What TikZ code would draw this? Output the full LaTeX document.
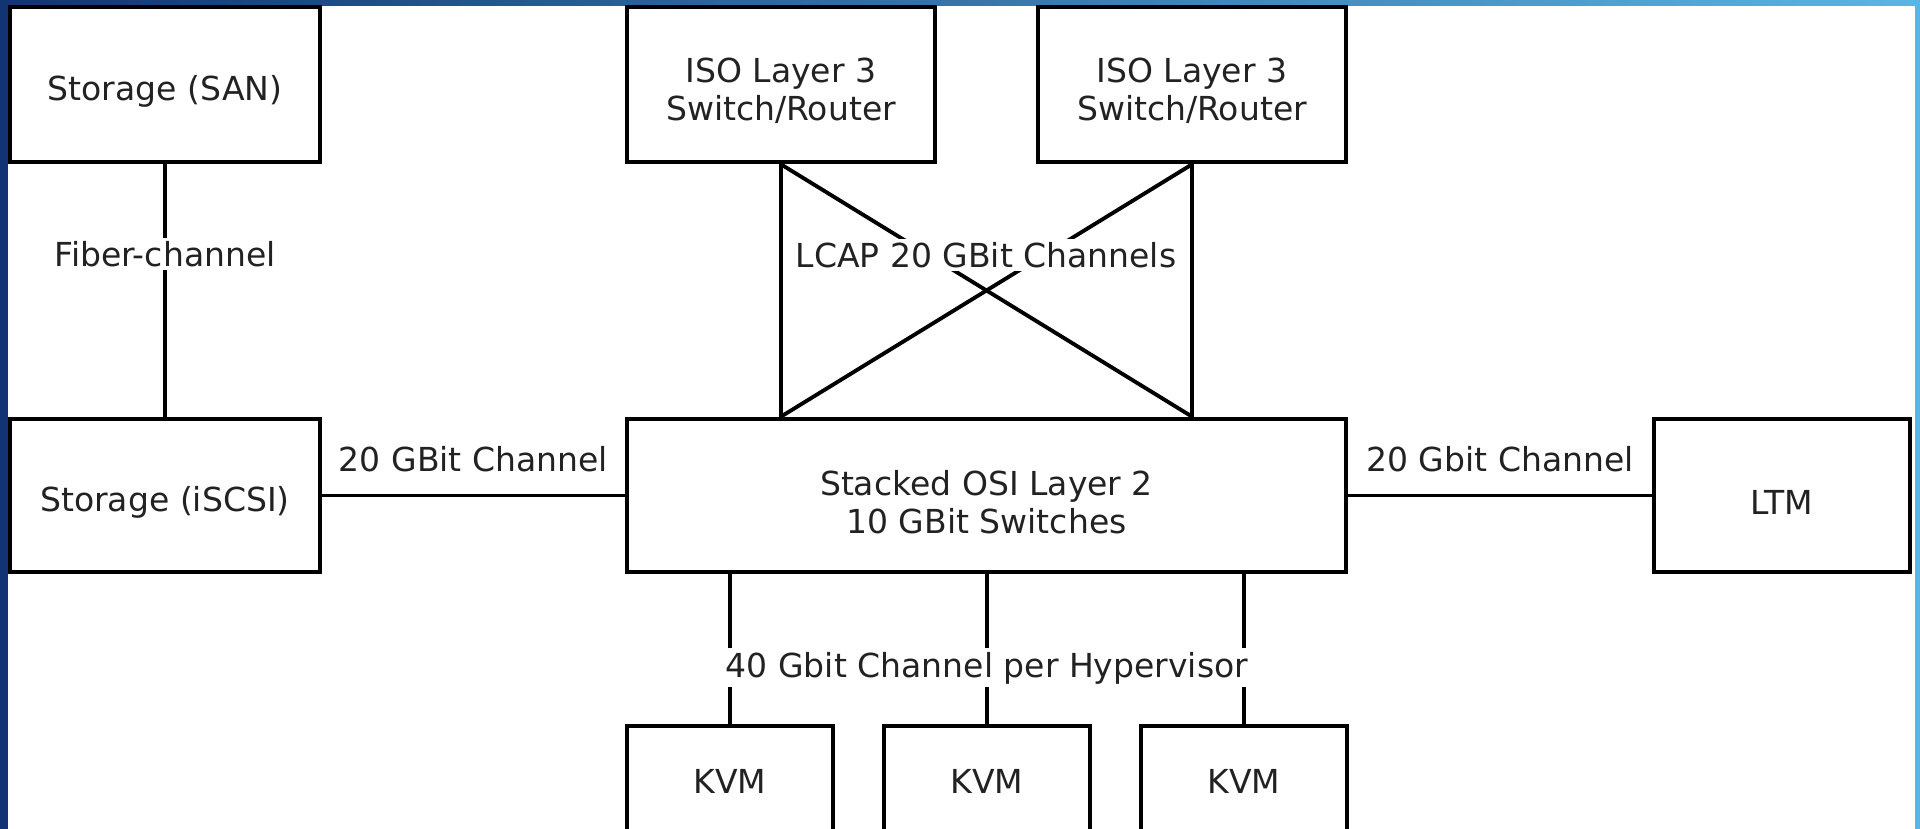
\documentclass[tikz,border=0pt]{standalone}
\usepackage{fontspec}
\setmainfont{DejaVu Sans}
\usetikzlibrary{calc}
\definecolor{bgdark}{HTML}{133472}
\definecolor{bglight}{HTML}{58B6E6}
\definecolor{textgray}{HTML}{222222}
\begin{document}
\begin{tikzpicture}[x=0.1mm,y=-0.1mm,
  box/.style={draw=black, line width=1.35pt, fill=white, rectangle, inner sep=0pt},
  boxtxt/.style={inner sep=0pt, align=center, text=textgray, yshift=-0.65mm,
    font=\fontsize{9.4}{10.8}\selectfont},
  link/.style={draw=black, line width=1.1pt},
  lbl/.style={fill=white, inner sep=1pt, text=textgray, font=\fontsize{9.4}{10.8}\selectfont},
  toplbl/.style={inner sep=1pt, text=textgray, font=\fontsize{9.4}{10.8}\selectfont}]
\useasboundingbox (0,0) rectangle (1920,829);
\clip (0,0) rectangle (1920,829);
\shade[left color=bgdark, right color=bglight] (0,0) rectangle (1920,829);
\fill[white] (8,6) rectangle (1915,829);

% boxes
\node[box, minimum width=31mm, minimum height=15.5mm] (san) at (165,84.5) {};
\node[box, minimum width=30.8mm, minimum height=15.5mm] (iso1) at (781,84.5) {};
\node[box, minimum width=30.8mm, minimum height=15.5mm] (iso2) at (1192,84.5) {};
\node[box, minimum width=31mm, minimum height=15.3mm] (iscsi) at (165,495.5) {};
\node[box, minimum width=71.9mm, minimum height=15.3mm] (stack) at (986.5,495.5) {};
\node[box, minimum width=25.6mm, minimum height=15.3mm] (ltm) at (1782,495.5) {};
\node[box, minimum width=20.6mm, minimum height=11mm] (kvm1) at (730,781) {};
\node[box, minimum width=20.6mm, minimum height=11mm] (kvm2) at (987,781) {};
\node[box, minimum width=20.6mm, minimum height=11mm] (kvm3) at (1244,781) {};

% box texts
\node[boxtxt] (santxt) at (san) {Storage (SAN)};
\node[boxtxt] (iso1txt) at (iso1) {ISO Layer 3\\Switch/Router};
\node[boxtxt] (iso2txt) at (iso2) {ISO Layer 3\\Switch/Router};
\node[boxtxt] (iscsitxt) at (iscsi) {Storage (iSCSI)};
\node[boxtxt] (stacktxt) at (stack) {Stacked OSI Layer 2\\10 GBit Switches};
\node[boxtxt] (ltmtxt) at (ltm) {LTM};
\node[boxtxt, yshift=0.6mm] (kvm1txt) at (kvm1) {KVM};
\node[boxtxt, yshift=0.6mm] (kvm2txt) at (kvm2) {KVM};
\node[boxtxt, yshift=0.6mm] (kvm3txt) at (kvm3) {KVM};

% connectors
\draw[link] (san.south) -- node[lbl, pos=0.355] (fc) {Fiber-channel} (iscsi.north);
\draw[link] (iso1.south) -- (iso1.south |- stack.north);
\draw[link] (iso2.south) -- (iso2.south |- stack.north);
\draw[link] (iso1.south) -- (iso2.south |- stack.north);
\draw[link] (iso2.south) -- (iso1.south |- stack.north);
\node[lbl] (lcap) at (986,255) {LCAP 20 GBit Channels};
\draw[link] (iscsi.east) -- node[toplbl, above=5pt] (l20a) {20 GBit Channel} (stack.west);
\draw[link] (stack.east) -- node[toplbl, above=5pt] (l20b) {20 Gbit Channel} (ltm.west);
\draw[link] (kvm1.north) -- (kvm1.north |- stack.south);
\draw[link] (kvm2.north) -- (kvm2.north |- stack.south);
\draw[link] (kvm3.north) -- (kvm3.north |- stack.south);
\node[lbl] (l40) at (987,668) {40 Gbit Channel per Hypervisor};
\end{tikzpicture}
\end{document}
